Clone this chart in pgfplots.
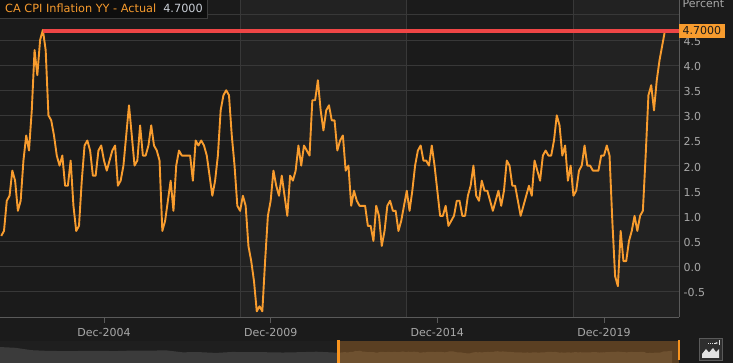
\documentclass[border=0pt]{standalone}
\usepackage{fontspec}
\setmainfont{DejaVu Sans}
\usepackage{pgfplots}
\usepackage{pgfplotstable}
\usetikzlibrary{arrows.meta}
\pgfplotsset{compat=1.18}

\definecolor{bgmain}{HTML}{1B1B1B}
\definecolor{bgband}{HTML}{222222}
\definecolor{gridc}{HTML}{383838}
\definecolor{axisc}{HTML}{5A5A5A}
\definecolor{labc}{HTML}{A8A8A8}
\definecolor{lineo}{HTML}{F89C2E}
\definecolor{redl}{HTML}{EF4646}
\definecolor{legbg}{HTML}{0E0E0E}
\definecolor{legbd}{HTML}{3C3C3C}
\definecolor{legval}{HTML}{C9CED6}
\definecolor{navbg}{HTML}{1F1F1F}
\definecolor{navgray}{HTML}{3B3B3B}
\definecolor{navsel}{HTML}{5A3F22}
\definecolor{navarea}{HTML}{6E5130}
\definecolor{handle}{HTML}{F7931E}
\definecolor{iconbg}{HTML}{2E2E2E}
\definecolor{iconfg}{HTML}{E2E2E2}

% CA CPI YoY, monthly, Nov 2001 -- Oct 2021
\pgfplotstableread[row sep=\\]{
v\\
0.6\\ 0.7\\
1.3\\ 1.4\\ 1.9\\ 1.7\\ 1.1\\ 1.3\\ 2.1\\ 2.6\\ 2.3\\ 3.1\\ 4.3\\ 3.8\\
4.5\\ 4.7\\ 4.3\\ 3.0\\ 2.9\\ 2.6\\ 2.2\\ 2.0\\ 2.2\\ 1.6\\ 1.6\\ 2.1\\
1.2\\ 0.7\\ 0.8\\ 1.7\\ 2.4\\ 2.5\\ 2.3\\ 1.8\\ 1.8\\ 2.3\\ 2.4\\ 2.1\\
1.9\\ 2.1\\ 2.3\\ 2.4\\ 1.6\\ 1.7\\ 2.0\\ 2.6\\ 3.2\\ 2.6\\ 2.0\\ 2.1\\
2.8\\ 2.2\\ 2.2\\ 2.4\\ 2.8\\ 2.4\\ 2.3\\ 2.1\\ 0.7\\ 0.9\\ 1.3\\ 1.7\\
1.1\\ 2.0\\ 2.3\\ 2.2\\ 2.2\\ 2.2\\ 2.2\\ 1.7\\ 2.5\\ 2.4\\ 2.5\\ 2.4\\
2.2\\ 1.8\\ 1.4\\ 1.7\\ 2.2\\ 3.1\\ 3.4\\ 3.5\\ 3.4\\ 2.6\\ 2.0\\ 1.2\\
1.1\\ 1.4\\ 1.2\\ 0.4\\ 0.1\\ -0.3\\ -0.9\\ -0.8\\ -0.9\\ 0.1\\ 1.0\\ 1.3\\
1.9\\ 1.6\\ 1.4\\ 1.8\\ 1.4\\ 1.0\\ 1.8\\ 1.7\\ 1.9\\ 2.4\\ 2.0\\ 2.4\\
2.3\\ 2.2\\ 3.3\\ 3.3\\ 3.7\\ 3.1\\ 2.7\\ 3.1\\ 3.2\\ 2.9\\ 2.9\\ 2.3\\
2.5\\ 2.6\\ 1.9\\ 2.0\\ 1.2\\ 1.5\\ 1.3\\ 1.2\\ 1.2\\ 1.2\\ 0.8\\ 0.8\\
0.5\\ 1.2\\ 1.0\\ 0.4\\ 0.7\\ 1.2\\ 1.3\\ 1.1\\ 1.1\\ 0.7\\ 0.9\\ 1.2\\
1.5\\ 1.1\\ 1.5\\ 2.0\\ 2.3\\ 2.4\\ 2.1\\ 2.1\\ 2.0\\ 2.4\\ 2.0\\ 1.5\\
1.0\\ 1.0\\ 1.2\\ 0.8\\ 0.9\\ 1.0\\ 1.3\\ 1.3\\ 1.0\\ 1.0\\ 1.4\\ 1.6\\
2.0\\ 1.4\\ 1.3\\ 1.7\\ 1.5\\ 1.5\\ 1.3\\ 1.1\\ 1.3\\ 1.5\\ 1.2\\ 1.5\\
2.1\\ 2.0\\ 1.6\\ 1.6\\ 1.3\\ 1.0\\ 1.2\\ 1.4\\ 1.6\\ 1.4\\ 2.1\\ 1.9\\
1.7\\ 2.2\\ 2.3\\ 2.2\\ 2.2\\ 2.5\\ 3.0\\ 2.8\\ 2.2\\ 2.4\\ 1.7\\ 2.0\\
1.4\\ 1.5\\ 1.9\\ 2.0\\ 2.4\\ 2.0\\ 2.0\\ 1.9\\ 1.9\\ 1.9\\ 2.2\\ 2.2\\
2.4\\ 2.2\\ 0.9\\ -0.2\\ -0.4\\ 0.7\\ 0.1\\ 0.1\\ 0.5\\ 0.7\\ 1.0\\ 0.7\\
1.0\\ 1.1\\ 2.2\\ 3.4\\ 3.6\\ 3.1\\ 3.7\\ 4.1\\ 4.4\\ 4.7\\
}\cpi
\pgfplotstablecreatecol[expr={\thisrow{v}+20.6}]{vn}{\cpi}

% earlier history for the navigator strip (annual)
\pgfplotstableread[row sep=\\]{
t v\\
1981.6 12.3\\ 1982.5 10.8\\ 1983.5 5.8\\ 1984.5 4.3\\ 1985.5 4.0\\
1986.5 4.2\\ 1987.5 4.4\\ 1988.5 4.0\\ 1989.5 5.0\\ 1990.5 4.8\\
1991.5 5.6\\ 1992.5 1.5\\ 1993.5 1.8\\ 1994.5 0.2\\ 1995.5 2.2\\
1996.5 1.6\\ 1997.5 1.6\\ 1998.5 1.0\\ 1999.5 1.7\\ 2000.5 2.7\\
2001.83 0.6\\
}\cpiold
\pgfplotstablecreatecol[expr={\thisrow{v}+20.6}]{vn}{\cpiold}

\begin{document}
\begin{tikzpicture}[x=1pt,y=1pt]
\useasboundingbox (0,0) rectangle (733,363);
\fill[bgmain] (0,0) rectangle (733,363);
% alternating background bands and their separators
\fill[bgband] (240.1,46) rectangle (406.8,363);
\fill[bgband] (573.4,46) rectangle (679,363);
\draw[gridc, line width=0.8pt] (240.1,46)--(240.1,363) (406.8,46)--(406.8,363) (573.4,46)--(573.4,363);

% navigator strip
\fill[navbg] (0,0) rectangle (679,22);
\fill[navsel] (338,0) rectangle (679,22);
\begin{axis}[at={(0pt,0pt)}, anchor=south west, scale only axis,
  width=679pt, height=22pt, xmin=1981.6, xmax=2022.167, ymin=0, ymax=45.4,
  hide axis, clip=true]
\addplot[fill=navgray, draw=none] table[x=t, y=vn]{\cpiold} \closedcycle;
\addplot[fill=navarea, draw=none] table[x expr=2001.8333+\coordindex/12, y=vn]{\cpi} \closedcycle;
\end{axis}

% main chart
\begin{axis}[at={(0pt,46pt)}, anchor=south west, scale only axis,
  width=679pt, height=317pt,
  xmin=2001.7967, xmax=2022.167, ymin=-1.013, ymax=5.296,
  axis x line*=bottom, axis y line*=right,
  axis line style={axisc, line width=0.8pt},
  tick align=outside, major tick length=6pt,
  xtick={2004.9167,2009.9167,2014.9167,2019.9167},
  xticklabels={Dec-2004,Dec-2009,Dec-2014,Dec-2019},
  ytick={-0.5,0,0.5,1,1.5,2,2.5,3,3.5,4,4.5,5},
  yticklabels={-0.5,0.0,0.5,1.0,1.5,2.0,2.5,3.0,3.5,4.0,4.5,{}},
  ymajorgrids, grid style={gridc, line width=0.8pt},
  ytick style={draw=none}, xtick style={axisc, line width=0.8pt},
  ticklabel style={font=\fontsize{11}{13}\selectfont, text=labc},
  yticklabel style={anchor=west, inner sep=0pt, xshift=-1.5pt, yshift=-1.5pt},
  xticklabel style={inner sep=0pt, yshift=-5pt},
  clip=true]
\addplot[lineo, line width=1.9pt, line join=round] table[x expr=2001.8333+\coordindex/12, y=v]{\cpi};
\addplot[redl, line width=4pt, yshift=-1.5pt] coordinates {(2003.0833,4.7) (2022.167,4.7)};
\end{axis}

% legend box
\fill[legbg] (0,345) rectangle (207,363);
\draw[legbd, line width=0.8pt] (207,363)--(207,345)--(0,345);
\node[anchor=base west, inner sep=0pt, font=\fontsize{11.3}{13}\selectfont] at (5,350.5)
  {\textcolor{lineo}{CA CPI Inflation YY - Actual}\hspace{7pt}\textcolor{legval}{4.7000}};
% axis unit
\node[anchor=base west, inner sep=0pt, text=labc, font=\fontsize{11}{13}\selectfont] at (682.5,355.5) {Percent};
% last value tag
\node[fill=lineo, text=bgmain, anchor=west, inner xsep=3.5pt, inner ysep=2.6pt,
  font=\fontsize{11}{13}\selectfont] at (679,332.2) {4.7000};

% navigator handles
\fill[handle] (337,0) rectangle (339.5,23);
\fill[handle] (677.5,3) rectangle (680,23);

% icon
\fill[iconbg] (699,3) rectangle (722,25);
\draw[axisc, line width=0.6pt] (699,3) rectangle (722,25);
\fill[iconfg] (702,5)--(702,9)--(706,14)--(709,10.5)--(713,15)--(716,11)--(719,14)--(719,5)--cycle;
\draw[iconfg, line width=0.8pt, dash pattern=on 1pt off 1pt] (708,20)--(715,20);
\draw[iconfg, line width=0.8pt, -{Stealth[length=2.5pt]}] (714,20)--(718,20);
\draw[iconfg, line width=0.8pt] (719.5,17.5)--(719.5,22.5);
\end{tikzpicture}
\end{document}
